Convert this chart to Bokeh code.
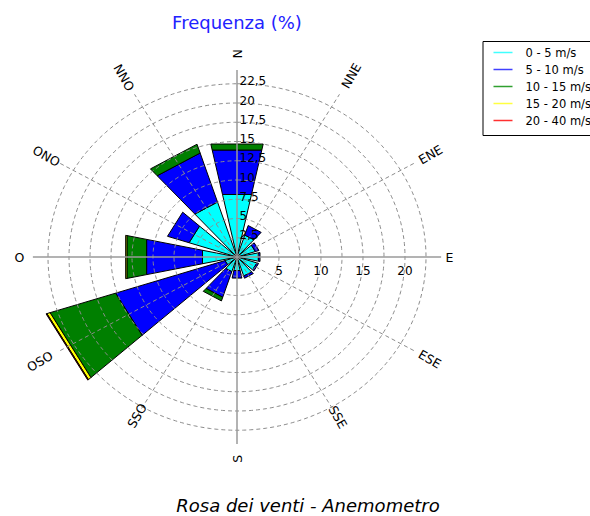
import numpy as np
from bokeh.plotting import figure
from bokeh.models import Range1d
from bokeh.embed import file_html
from bokeh.resources import INLINE
from bokeh.core.properties import value

# ---------------- data ----------------
sector_angles = [0, 30, 60, 90, 120, 150, 180, 210, 240, 270, 300, 330]
speed_classes = ["0 - 5 m/s", "5 - 10 m/s", "10 - 15 m/s", "15 - 20 m/s", "20 - 40 m/s"]
freq_0_5   = [8.3, 3.0, 2.3, 2.6, 2.5, 2.6, 1.8, 2.0, 1.5, 4.2, 6.0, 7.5]
freq_5_10  = [5.9, 1.3, 0.45, 0.2, 0.2, 0.3, 1.0, 3.5, 13.7, 6.8, 2.7, 6.7]
freq_10_15 = [0.8, 0.0, 0.0, 0.0, 0.0, 0.0, 0.0, 0.5, 8.2, 2.4, 0.0, 1.2]
freq_15_20 = [0.0, 0.0, 0.0, 0.0, 0.0, 0.0, 0.0, 0.0, 0.4, 0.15, 0.0, 0.0]
freq_20_40 = [0.0, 0.0, 0.0, 0.0, 0.0, 0.0, 0.0, 0.0, 0.1, 0.0, 0.0, 0.0]

compass_labels = ["N", "NNE", "ENE", "E", "ESE", "SSE", "S", "SSO", "OSO", "O", "ONO", "NNO"]
ring_values = [2.5, 5, 7.5, 10, 12.5, 15, 17.5, 20, 22.5]
ring_labels = ["2,5", "5", "7,5", "10", "12,5", "15", "17,5", "20", "22,5"]
e_tick_values = [5, 10, 15, 20]
e_tick_labels = ["5", "10", "15", "20"]

# ---------------- style / layout ----------------
series = [freq_0_5, freq_5_10, freq_10_15, freq_15_20, freq_20_40]
colors = ["#00ffff", "#0000ff", "#007f00", "#ffff00", "#ff0000"]
legend_line_colors = ["#40ffff", "#4040ff", "#30a030", "#ffff40", "#ff3030"]
label_radius = [26.4, 27.2, 26.6, 25.3, 26.5, 24.0, 26.2, 23.8, 27.1, 25.9, 26.2, 26.9]
half_width = 12.0
spoke_len = 24.4
axis_len = 24.3
FONT = value("DejaVu Sans")

W, H = 590, 516
OX, OY = 0, 0              # canvas origin in picture pixels
CX, CY = 236.5, 256.5      # centre in picture pixels
SX, SY = 8.4, 7.7          # pixels per percent unit


def sx2x(px):
    return (px - CX) / SX


def sy2y(py):
    return (CY - py) / SY


def pol(r, deg):
    t = np.radians(deg)
    return r * np.sin(t), r * np.cos(t)


p = figure(width=W, height=H, output_backend="svg", toolbar_location=None,
           x_range=Range1d(sx2x(OX), sx2x(OX + W)), y_range=Range1d(sy2y(OY + H), sy2y(OY)),
           min_border=0, outline_line_color=None, background_fill_color="white",
           border_fill_color="white")
p.axis.visible = False
p.grid.visible = False

# ---------------- bars ----------------
xs, ys, fills = [], [], []
for i, ang in enumerate(sector_angles):
    base = 0.0
    for k, s in enumerate(series):
        v = s[i]
        if v <= 0:
            continue
        r0, r1 = base, base + v
        a1, a2 = ang - half_width, ang + half_width
        if r0 == 0:
            pts = [(0.0, 0.0), pol(r1, a1), pol(r1, a2)]
        else:
            pts = [pol(r0, a1), pol(r1, a1), pol(r1, a2), pol(r0, a2)]
        xs.append([float(q[0]) for q in pts])
        ys.append([float(q[1]) for q in pts])
        fills.append(colors[k])
        base = r1
p.patches(xs, ys, fill_color=fills, line_color="black", line_width=1)

# ---------------- grid ----------------
th = np.linspace(0, 360, 361)
rx = [list(r * np.sin(np.radians(th))) for r in ring_values]
ry = [list(r * np.cos(np.radians(th))) for r in ring_values]
p.multi_line(rx, ry, line_color="#8c8c8c", line_dash="4 3", line_width=1)

spokes = [a for a in sector_angles if a % 90 != 0]
p.multi_line([[0, pol(spoke_len, a)[0]] for a in spokes],
             [[0, pol(spoke_len, a)[1]] for a in spokes],
             line_color="#8c8c8c", line_dash="4 3", line_width=1)

p.multi_line([[-axis_len, axis_len], [0, 0]], [[0, 0], [-axis_len, axis_len]],
             line_color="#9a9a9a", line_width=1.5)

# ---------------- tick labels ----------------
p.text(x=[0.3] * len(ring_values), y=ring_values, text=ring_labels, text_font=FONT,
       text_font_size="12px", text_align="left", text_baseline="middle", y_offset=-3,
       text_color="black")
p.text(x=e_tick_values, y=[0] * len(e_tick_values), text=e_tick_labels, text_font=FONT,
       text_font_size="12px", text_align="center", text_baseline="middle", y_offset=13,
       text_color="black")

# ---------------- compass labels ----------------
lx, ly, lang = [], [], []
for a, r in zip(sector_angles, label_radius):
    x, y = pol(r, a)
    lx.append(float(x)); ly.append(float(y))
    rot = 90 - a
    while rot <= -90:
        rot += 180
    while rot > 90:
        rot -= 180
    lang.append(np.radians(rot))
p.text(x=lx, y=ly, text=compass_labels, angle=lang, text_font=FONT, text_font_size="12.5px",
       text_align="center", text_baseline="middle", text_color="black")

# ---------------- titles ----------------
p.text(x=[0], y=[sy2y(21.5)], text=["Frequenza (%)"], text_font=FONT, text_font_size="18px",
       text_align="center", text_baseline="middle", text_color="#2222ff")
p.text(x=[sx2x(307.5)], y=[sy2y(505)], text=["Rosa dei venti - Anemometro"], text_font=FONT,
       text_font_size="18px", text_font_style="italic", text_align="center",
       text_baseline="alphabetic", text_color="black")

# ---------------- legend ----------------
p.quad(left=[sx2x(482.5)], right=[sx2x(640)], top=[sy2y(41)], bottom=[sy2y(135)],
       fill_color="white", line_color="black", line_width=1)
row_y = [52, 69, 86, 103, 120]
p.segment(x0=[sx2x(493)] * 5, x1=[sx2x(512)] * 5, y0=[sy2y(v) for v in row_y],
          y1=[sy2y(v) for v in row_y], line_color=legend_line_colors, line_width=1.5)
p.text(x=[sx2x(525)] * 5, y=[sy2y(v) for v in row_y], text=speed_classes, text_font=FONT,
       text_font_size="11.5px", text_align="left", text_baseline="middle", text_color="black")

open("out.html", "w").write(file_html(p, INLINE))
